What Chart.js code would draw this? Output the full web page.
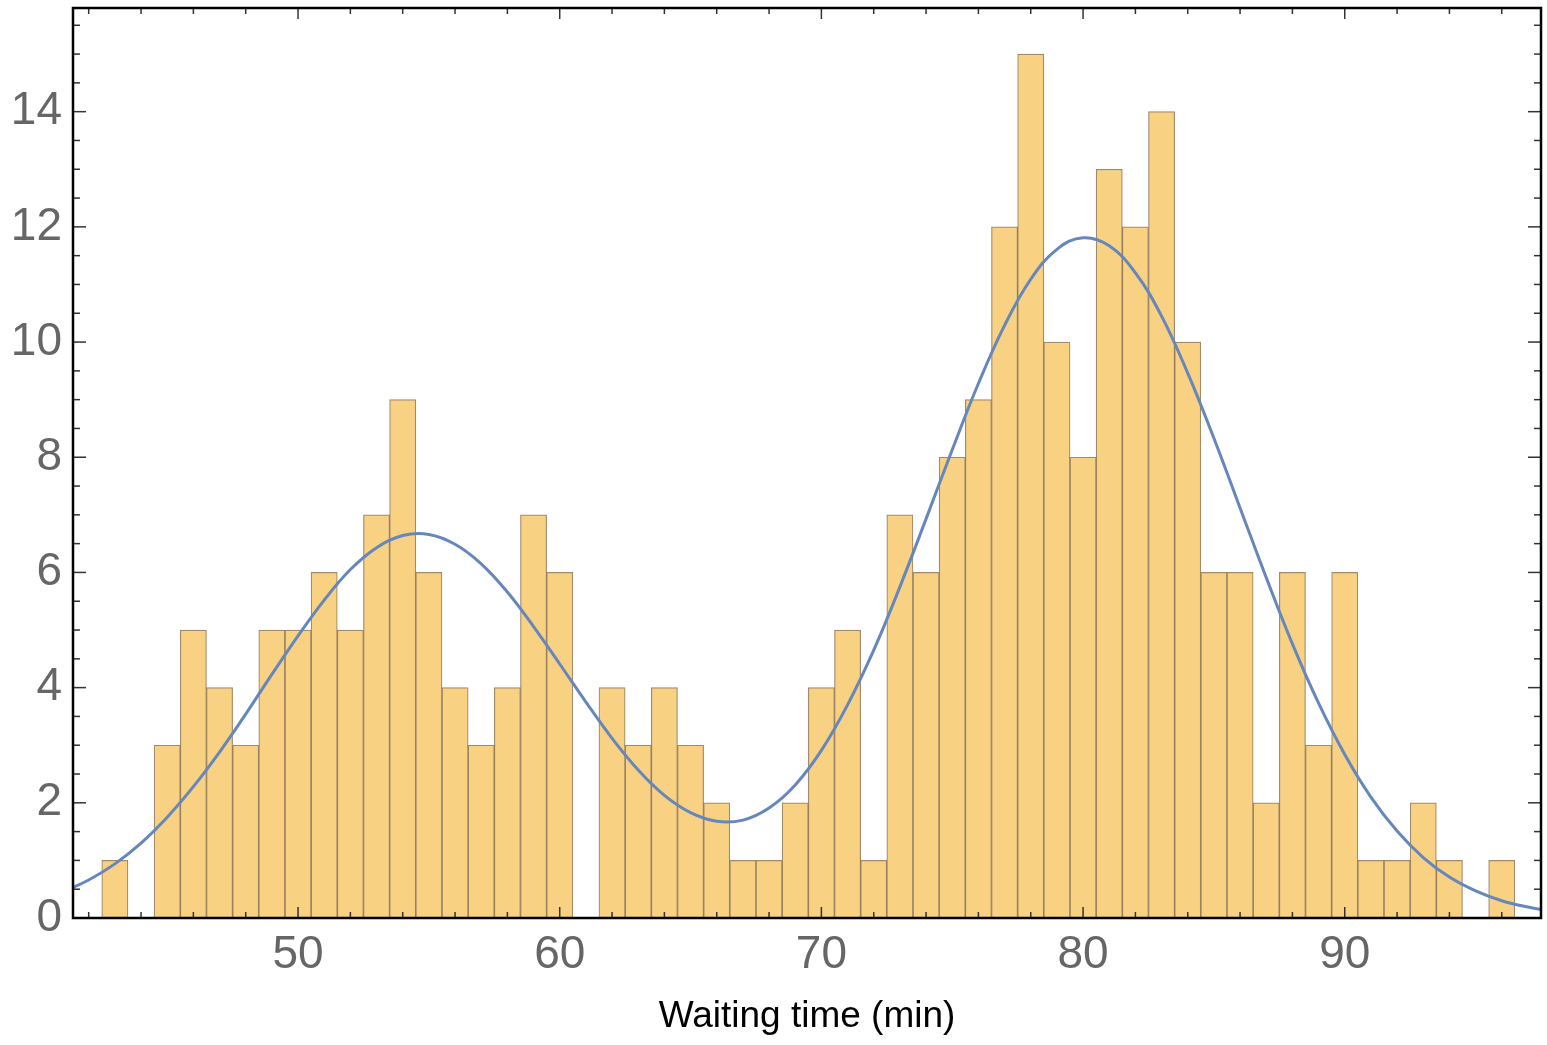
<!DOCTYPE html>
<html>
<head>
<meta charset="utf-8">
<script src="https://cdn.jsdelivr.net/npm/chart.js@4.4.1/dist/chart.umd.min.js"></script>
<style>
  html, body { margin: 0; padding: 0; background: #fff; }
  #wrap { width: 1547px; height: 1045px; position: relative; }
</style>
</head>
<body>
<div id="wrap"><canvas id="hist"></canvas></div>
<script>
// bins are 1 min wide, centred on whole minutes
const binCenters = [43, 44, 45, 46, 47, 48, 49, 50, 51, 52, 53, 54, 55, 56, 57, 58, 59, 60,
  61, 62, 63, 64, 65, 66, 67, 68, 69, 70, 71, 72, 73, 74, 75, 76, 77, 78, 79, 80,
  81, 82, 83, 84, 85, 86, 87, 88, 89, 90, 91, 92, 93, 94, 95, 96];
const binCounts = [1, 0, 3, 5, 4, 3, 5, 5, 6, 5, 7, 9, 6, 4, 3, 4, 7, 6,
  0, 4, 3, 4, 3, 2, 1, 1, 2, 4, 5, 1, 7, 6, 8, 9, 12, 15, 10, 8,
  13, 12, 14, 10, 6, 6, 2, 6, 3, 6, 1, 1, 2, 1, 0, 1];

// smooth density curve (scaled to counts)
const curveX = [41, 42, 43, 44, 45, 46, 47, 48, 49, 50, 51, 52, 53, 54, 55, 56, 57, 58, 59, 60,
  61, 62, 63, 64, 65, 66, 67, 68, 69, 70, 71, 72, 73, 74, 75, 76, 77, 78, 79, 80,
  81, 82, 83, 84, 85, 86, 87, 88, 89, 90, 91, 92, 93, 94, 95, 96, 97, 98];
const curveY = [0.45, 0.66, 0.94, 1.30, 1.75, 2.28, 2.88, 3.54, 4.23, 4.90, 5.52, 6.05, 6.43, 6.64, 6.66, 6.49, 6.15, 5.66, 5.06, 4.41,
  3.75, 3.12, 2.57, 2.13, 1.83, 1.68, 1.70, 1.91, 2.31, 2.91, 3.70, 4.65, 5.75, 6.93, 8.13, 9.28, 10.29, 11.09, 11.61, 11.81,
  11.67, 11.20, 10.45, 9.46, 8.33, 7.12, 5.91, 4.76, 3.73, 2.84, 2.10, 1.51, 1.05, 0.71, 0.47, 0.30, 0.19, 0.11];

const xTicks = [50, 60, 70, 80, 90];
const yTicks = [0, 2, 4, 6, 8, 10, 12, 14];

const FONT = '"Liberation Sans", Arial, Helvetica, sans-serif';

// frame + inward tick marks on all four sides (drawn over the bars)
const frameTicks = {
  id: 'frameTicks',
  afterDatasetsDraw(chart) {
    const { ctx, chartArea: a, scales: { x, y } } = chart;
    const seg = (x1, y1, x2, y2) => { ctx.beginPath(); ctx.moveTo(x1, y1); ctx.lineTo(x2, y2); ctx.stroke(); };
    ctx.save();
    ctx.strokeStyle = '#333';
    ctx.lineWidth = 1.5;
    for (let v = 42; v <= 96; v += 2) {
      const px = x.getPixelForValue(v);
      const len = xTicks.includes(v) ? 11 : 6;
      seg(px, a.bottom, px, a.bottom - len);
      seg(px, a.top, px, a.top + len);
    }
    for (let v = 0; v <= 15.5; v += 0.5) {
      const py = y.getPixelForValue(v);
      const len = yTicks.includes(v) ? 13 : 7;
      seg(a.left, py, a.left + len, py);
      seg(a.right, py, a.right - len, py);
    }
    ctx.strokeStyle = '#000';
    ctx.lineWidth = 2.5;
    ctx.strokeRect(a.left, a.top, a.right - a.left, a.bottom - a.top);
    ctx.restore();
  }
};

new Chart(document.getElementById('hist'), {
  type: 'bar',
  data: {
    datasets: [
      {
        type: 'line',
        label: 'fit',
        data: curveX.map((v, i) => ({ x: v, y: curveY[i] })),
        borderColor: '#6587BC',
        borderWidth: 3,
        pointRadius: 0,
        tension: 0.4,
        order: 0
      },
      {
        label: 'count',
        data: binCenters.map((v, i) => ({ x: v, y: binCounts[i] || null })),
        backgroundColor: 'rgb(249, 209, 131)',
        borderColor: 'rgba(130, 100, 55, 0.75)',
        borderWidth: 1.2,
        barPercentage: 1,
        categoryPercentage: 1,
        order: 1
      }
    ]
  },
  options: {
    responsive: true,
    maintainAspectRatio: false,
    animation: false,
    layout: { padding: { top: 8, right: 6, left: 0, bottom: 0 } },
    plugins: { legend: { display: false }, tooltip: { enabled: false } },
    scales: {
      x: {
        type: 'linear',
        min: 41.4,
        max: 97.5,
        offset: false,
        grid: { display: false, drawTicks: false },
        border: { display: false },
        afterBuildTicks: s => { s.ticks = xTicks.map(v => ({ value: v })); },
        afterFit: s => { s.height = 127; s.paddingLeft = 0; s.paddingRight = 0; },
        ticks: { color: '#666', font: { family: FONT, size: 46 }, padding: 10, maxRotation: 0, autoSkip: false },
        title: { display: true, text: 'Waiting time (min)', color: '#000', font: { family: FONT, size: 37 }, padding: { top: 0, bottom: 6 } }
      },
      y: {
        min: 0,
        max: 15.8,
        grid: { display: false, drawTicks: false },
        border: { display: false },
        afterBuildTicks: s => { s.ticks = yTicks.map(v => ({ value: v })); },
        afterFit: s => { s.width = 73; s.paddingTop = 0; s.paddingBottom = 0; },
        ticks: { color: '#666', font: { family: FONT, size: 46 }, padding: 11 }
      }
    }
  },
  plugins: [frameTicks]
});
</script>
</body>
</html>
